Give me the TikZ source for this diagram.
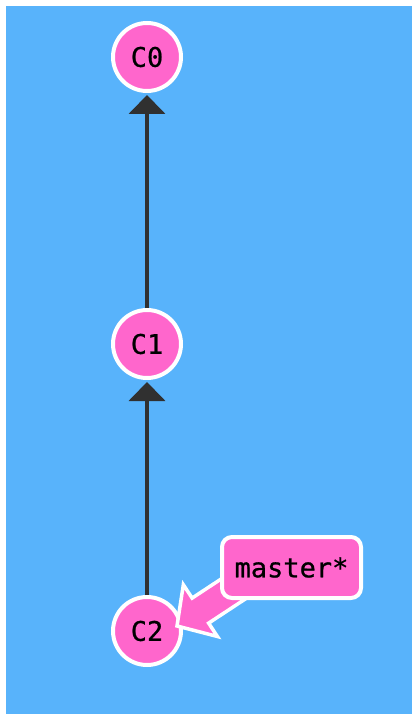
\documentclass[tikz,border=0pt]{standalone}
\usepackage{fontspec}
\setmonofont[FakeBold=0.8]{DejaVu Sans Mono}
\usetikzlibrary{arrows.meta}
\definecolor{bgblue}{RGB}{88,179,251}
\definecolor{commitpink}{RGB}{255,102,204}
\definecolor{edgegray}{RGB}{48,48,48}
\tikzset{
  commit/.style={circle, draw=white, line width=4pt, fill=commitpink, minimum size=68pt, inner sep=0pt, outer sep=2pt, font=\fontsize{27}{30}\selectfont\ttfamily},
  parentedge/.style={draw=edgegray, line width=4pt, -{Triangle[width=36pt,length=19pt]}, shorten >=2pt},
  branchbox/.style={rectangle, rounded corners=10pt, draw=white, line width=4pt, fill=commitpink, minimum width=139pt, minimum height=61pt, inner sep=0pt, font=\fontsize{27}{30}\selectfont\ttfamily},
  fatarrow/.style={draw=white, line width=3.5pt, fill=commitpink, line join=miter}
}
\begin{document}
\begin{tikzpicture}[x=1pt,y=-1pt]
\useasboundingbox (0,0) rectangle (412,714);
\fill[bgblue] (6,6) rectangle (412,714);
\node[commit] (c0) at (147,57) {C0};
\node[commit] (c1) at (147,344) {C1};
\node[commit] (c2) at (147,631) {C2};
\draw[parentedge] (c1) -- (c0);
\draw[parentedge] (c2) -- (c1);
\fill[fatarrow] (177,626) -- (217.43,636.49) -- (208.63,623.13) -- (260.4,589.03) -- (243.9,563.98) -- (192.13,598.08) -- (183.33,584.71) -- cycle;
\node[branchbox] (master) at (291.5,567.5) {master*};
\end{tikzpicture}
\end{document}
